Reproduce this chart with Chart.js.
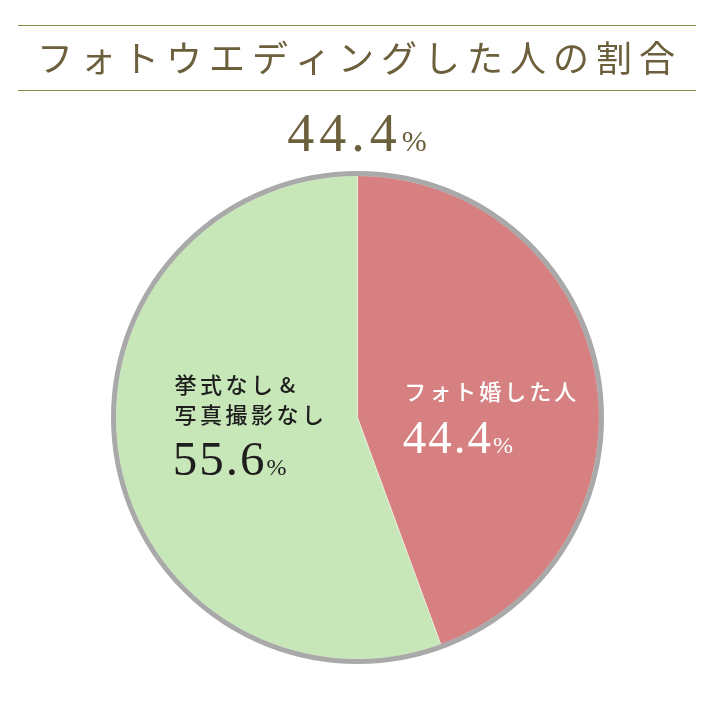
<!DOCTYPE html>
<html>
<head>
<meta charset="utf-8">
<script src="https://cdn.jsdelivr.net/npm/chart.js@4"></script>
<style>
  html, body { margin: 0; padding: 0; background: #fff; }
  #wrap { width: 715px; height: 715px; position: relative; }
</style>
</head>
<body>
<div id="wrap"><canvas id="grafico"></canvas></div>
<script>
const titulo = 'フォトウエディングした人の割合';
const categorias = ['フォト婚した人', '挙式なし&写真撮影なし'];
const rotulos = [['フォト婚した人'], ['挙式なし&', '写真撮影なし']];
const valores = [44.4, 55.6];
const cores = ['#d68081', '#c8e7b9'];

const jpFont = '"Noto Sans CJK JP", sans-serif';
const numFont = '"Liberation Serif", "DejaVu Serif", serif';

// desenha texto japonês com espaçamento fixo entre caracteres
function textoEspacado(ctx, txt, x, y, passo, alinhar) {
  const chars = Array.from(txt);
  let inicio = alinhar === 'center' ? x - chars.length * passo / 2 : x;
  ctx.textAlign = 'center';
  chars.forEach((c, i) => ctx.fillText(c, inicio + i * passo + passo / 2, y));
}

// numero + % menor, com espaço extra entre dígitos
function porcentagem(ctx, valor, x, y, tamNum, tamPct, cor, alinhar, extra) {
  const chars = Array.from(valor.toFixed(1));
  ctx.fillStyle = cor;
  ctx.textBaseline = 'alphabetic';
  ctx.textAlign = 'left';
  ctx.font = tamNum + 'px ' + numFont;
  const larguras = chars.map(c => ctx.measureText(c).width);
  const wNum = larguras.reduce((a, b) => a + b, 0) + extra * chars.length;
  ctx.font = tamPct + 'px ' + numFont;
  const wPct = ctx.measureText('%').width;
  let xi = alinhar === 'center' ? x - (wNum + wPct) / 2 : x;
  ctx.font = tamNum + 'px ' + numFont;
  chars.forEach((c, i) => {
    ctx.fillText(c, xi, y);
    xi += larguras[i] + extra;
  });
  ctx.font = tamPct + 'px ' + numFont;
  ctx.fillText('%', xi, y);
}

const decoracao = {
  id: 'decoracao',
  afterDatasetsDraw(chart) {
    const ctx = chart.ctx;
    const arco = chart.getDatasetMeta(0).data[0];
    const cx = arco.x, cy = arco.y, r = arco.outerRadius;

    ctx.save();
    // borda cinza do círculo
    ctx.beginPath();
    ctx.arc(cx, cy, r + 2, 0, Math.PI * 2);
    ctx.strokeStyle = '#a9a9a9';
    ctx.lineWidth = 5;
    ctx.stroke();

    // título com linhas
    ctx.strokeStyle = '#8c8a45';
    ctx.lineWidth = 1;
    [25.5, 90.5].forEach(y => {
      ctx.beginPath();
      ctx.moveTo(18, y);
      ctx.lineTo(696, y);
      ctx.stroke();
    });
    ctx.fillStyle = '#6b5f3c';
    ctx.font = '36px ' + jpFont;
    ctx.textBaseline = 'middle';
    textoEspacado(ctx, titulo, 356, 58, 43, 'center');

    porcentagem(ctx, valores[0], 357, 151, 54, 30, '#6b5f3c', 'center', 5);

    // rótulo fatia vermelha
    ctx.fillStyle = '#ffffff';
    ctx.font = '500 22px ' + jpFont;
    ctx.textBaseline = 'middle';
    textoEspacado(ctx, rotulos[0][0], cx + 0.187 * r, cy - 26, 25, 'left');
    porcentagem(ctx, valores[0], cx + 0.187 * r, cy + 35, 47, 24, '#ffffff', 'left', 2);

    // rótulo fatia verde
    ctx.fillStyle = '#1e1e1e';
    ctx.font = '500 22px ' + jpFont;
    ctx.textBaseline = 'middle';
    textoEspacado(ctx, rotulos[1][0], cx - 0.763 * r, cy - 33, 25.5, 'left');
    textoEspacado(ctx, rotulos[1][1], cx - 0.763 * r, cy - 3, 25.5, 'left');
    porcentagem(ctx, valores[1], cx - 0.763 * r, cy + 57, 49, 24, '#1e1e1e', 'left', 2);
    ctx.restore();
  }
};

new Chart(document.getElementById('grafico'), {
  type: 'pie',
  data: {
    labels: categorias,
    datasets: [{
      data: valores,
      backgroundColor: cores,
      borderColor: 'rgba(255,255,255,0.4)',
      borderWidth: 1
    }]
  },
  options: {
    responsive: true,
    maintainAspectRatio: false,
    animation: false,
    layout: { padding: { top: 175, bottom: 55, left: 115, right: 115 } },
    plugins: {
      legend: { display: false },
      tooltip: { enabled: false },
      title: { display: false }
    }
  },
  plugins: [decoracao]
});
</script>
</body>
</html>
